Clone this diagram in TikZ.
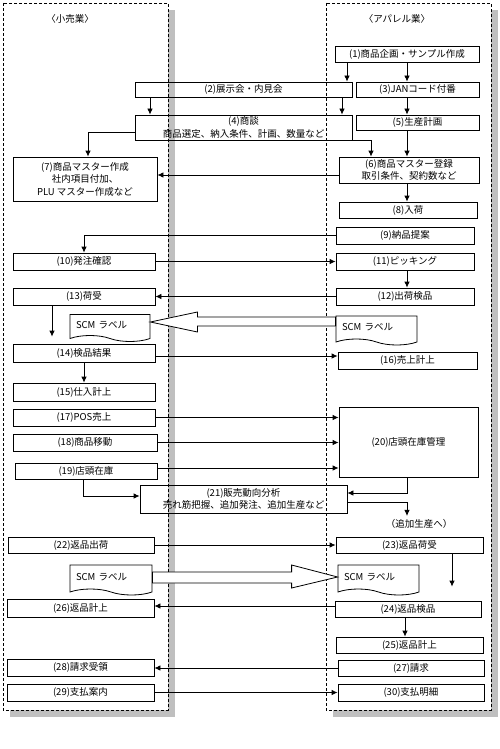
\documentclass[tikz,border=0pt]{standalone}
\usepackage{fontspec}
\setmainfont{Noto Sans CJK JP}
\usetikzlibrary{arrows.meta,shapes.symbols,calc}

\tikzset{
	proc/.style 2 args={draw, line width=0.8pt, inner sep=0pt, align=center,
		minimum width=#1pt, minimum height=#2pt, font=\fontsize{9.5}{12.5}\selectfont},
	head/.style={font=\fontsize{9.5}{12}\selectfont},
	lane/.style={draw, fill=white, line width=0.6pt, dash pattern=on 3pt off 2pt},
	laneshadow/.style={fill=black!25},
	arr/.style={-{Latex[length=6pt,width=5.5pt]}, line width=0.8pt},
	scmdoc/.style 2 args={tape, draw, fill=white, line width=0.8pt, tape bend top=none,
		tape bend bottom=out and in, tape bend height=6pt, inner sep=0pt,
		align=left, text width=#1pt-12pt,
		minimum width=#1pt, minimum height=#2pt, font=\fontsize{9.5}{12}\selectfont},
	bigarrow/.style={draw, fill=white, line width=0.8pt, line join=miter},
}

\begin{document}
\begin{tikzpicture}[x=1pt, y=-1pt]
	\useasboundingbox (0,0) rectangle (500,749);
	\fill[laneshadow] (10,10) rectangle (175,717);
	\draw[lane] (3,3) rectangle (168,710);
	\fill[laneshadow] (333,10) rectangle (498,717);
	\draw[lane] (326,3) rectangle (491,710);

	\node[head] (hL) at (70,19) {〈小売業〉};
	\node[head] (hR) at (397,19) {〈アパレル業〉};

	\node[proc={144}{16}] (n1) at (407,54) {(1)商品企画・サンプル作成};
	\node[proc={217}{15}] (n2) at (243.5,89.5) {(2)展示会・内見会};
	\node[proc={123}{15}] (n3) at (417.5,89.5) {(3)JANコード付番};
	\node[proc={217}{25}] (n4) at (243.5,127.5) {(4)商談\\商品選定、納入条件、計画、数量など};
	\node[proc={123}{15}] (n5) at (417.5,122.5) {(5)生産計画};
	\node[proc={140}{26}] (n6) at (409,170) {(6)商品マスター登録\\取引条件、契約数など};
	\node[proc={144}{44}] (n7) at (85,179) {(7)商品マスター作成\\社内項目付加、\\PLU マスター作成など};
	\node[proc={138}{16}] (n8) at (408,210) {(8)入荷};
	\node[proc={138}{17}] (n9) at (405,235.5) {(9)納品提案};
	\node[proc={142}{17}] (n10) at (84,261.5) {(10)発注確認};
	\node[proc={138}{17}] (n11) at (405,261.5) {(11)ピッキング};
	\node[proc={138}{17}] (n12) at (405,296.5) {(12)出荷検品};
	\node[proc={142}{17}] (n13) at (84,296.5) {(13)荷受};
	\node[scmdoc={80}{27}] (sL1) at (110,325) {SCM ラベル};
	\node[scmdoc={81}{29}] (sR1) at (376.5,327.5) {SCM ラベル};
	\node[proc={142}{18}] (n14) at (84,353) {(14)検品結果};
	\node[proc={142}{18}] (n15) at (84,392) {(15)仕入計上};
	\node[proc={139}{17}] (n16) at (407.5,360.5) {(16)売上計上};
	\node[proc={142}{17}] (n17) at (84,417.5) {(17)POS売上};
	\node[proc={144}{17}] (n18) at (85,442.5) {(18)商品移動};
	\node[proc={142}{16}] (n19) at (86,471) {(19)店頭在庫};
	\node[proc={139}{70}] (n20) at (408.5,442) {(20)店頭在庫管理};
	\node[proc={207}{28}] (n21) at (243.5,499) {(21)販売動向分析\\売れ筋把握、追加発注、追加生産など};
	\node[head] (ts) at (419,524) {（追加生産へ）};
	\node[proc={146}{16}] (n22) at (81,545) {(22)返品出荷};
	\node[proc={147}{16}] (n23) at (409.5,545) {(23)返品荷受};
	\node[scmdoc={82}{30}] (sL2) at (111,577) {SCM ラベル};
	\node[scmdoc={81}{30}] (sR2) at (378.5,577) {SCM ラベル};
	\node[proc={146}{16}] (n24) at (408,609) {(24)返品検品};
	\node[proc={147}{16}] (n25) at (409.5,645) {(25)返品計上};
	\node[proc={147}{18}] (n26) at (80.5,608) {(26)返品計上};
	\node[proc={146}{16}] (n27) at (411,668) {(27)請求};
	\node[proc={147}{17}] (n28) at (80.5,667.5) {(28)請求受領};
	\node[proc={147}{17}] (n29) at (80.5,692.5) {(29)支払案内};
	\node[proc={146}{17}] (n30) at (411,692.5) {(30)支払明細};

	\draw[bigarrow] ($(sL1.east)+(0,-3)$) -- ($(sL1.east)+(47,-13)$) -- ($(sL1.east)+(47,-8)$)
		-- ($(sR1.west)+(0,-10.5)$) -- ($(sR1.west)+(0,-1.5)$)
		-- ($(sL1.east)+(47,1)$) -- ($(sL1.east)+(47,7)$) -- cycle;
	\draw[bigarrow] ($(sL2.east)+(0,-5)$) -- ($(sR2.west)+(-46,-5)$) -- ($(sR2.west)+(-46,-12)$)
		-- (sR2.west) -- ($(sR2.west)+(-46,11)$) -- ($(sR2.west)+(-46,6)$)
		-- ($(sL2.east)+(0,6)$) -- cycle;

	\coordinate (c52) at (52,0);
	\coordinate (c83) at (83,0);
	\coordinate (c88) at (88,0);
	\coordinate (c150) at (150,0);
	\coordinate (c342) at (342,0);
	\coordinate (c347) at (347,0);
	\coordinate (c371) at (371,0);
	\coordinate (c405) at (405,0);
	\coordinate (c407) at (407,0);
	\coordinate (c452) at (452,0);
	\coordinate (r132) at (0,132);
	\coordinate (r175) at (0,175);
	\coordinate (r356) at (0,356);
	\coordinate (r468) at (0,468);
	\coordinate (r493) at (0,493);
	\coordinate (r496) at (0,496);
	\coordinate (r502) at (0,502);
	\coordinate (r606) at (0,606);

	\draw[arr] (n1.south -| c347) -- (n2.north -| c347);
	\draw[arr] (n1.south -| c407) -- (n3.north -| c407);
	\draw[arr] (n2.south -| c150) -- (n4.north -| c150);
	\draw[arr] (n2.south -| c342) -- (n4.north -| c342);
	\draw[arr] (n3.south -| c407) -- (n5.north -| c407);
	\draw[arr] (n4.west |- r132) -| (n7.north -| c88);
	\draw[arr] (n4.south east) -| (n6.north -| c371);
	\draw[arr] (n5.south -| c407) -- (n6.north -| c407);
	\draw[arr] (n6.west |- r175) -- (n7.east |- r175);
	\draw[arr] (n6.south -| c407) -- (n8.north -| c407);
	\draw[arr] (n9.west) -| (n10.north);
	\draw[arr] (n10.east) -- (n11.west);
	\draw[arr] (n11.south -| c407) -- (n12.north -| c407);
	\draw[arr] (n12.west) -- (n13.east);
	\draw[arr, shorten >=7pt] (n13.south -| c52) -- (n14.north -| c52);
	\draw[arr] (n14.east |- r356) -- (n16.west |- r356);
	\draw[arr] (n14.south) -- (n15.north);
	\draw[arr] (n17.east) -- (n20.west |- n17.east);
	\draw[arr] (n18.east) -- (n20.west |- n18.east);
	\draw[arr] (n19.east |- r468) -- (n20.west |- r468);
	\draw[arr] (n19.south -| c83) |- (n21.west |- r496);
	\draw[arr] (n20.south -| c407) |- (n21.east |- r493);
	\draw[arr] (n21.east |- r502) -| (ts.north -| c407);
	\draw[arr] (n22.east) -- (n23.west);
	\draw[arr, shorten >=14pt] (n23.south -| c452) -- (n24.north -| c452);
	\draw[arr] (n24.west |- r606) -- (n26.east |- r606);
	\draw[arr] (n24.south -| c405) -- (n25.north -| c405);
	\draw[arr] (n27.west) -- (n28.east |- n27.west);
	\draw[arr] (n29.east) -- (n30.west |- n29.east);
\end{tikzpicture}
\end{document}
